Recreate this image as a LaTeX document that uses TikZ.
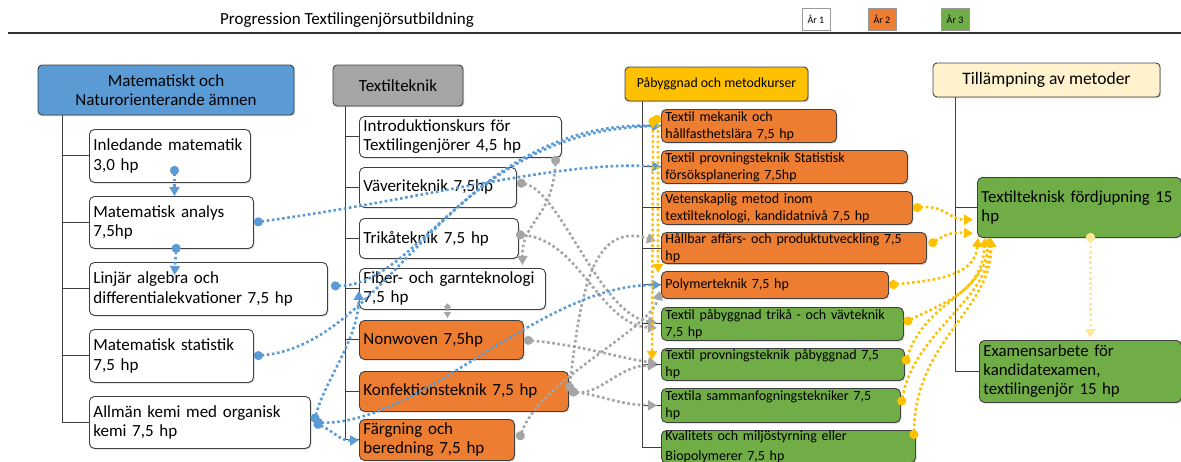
\documentclass[tikz,border=0pt]{standalone}
\usepackage{fontspec}
\setmainfont{Carlito}
\usetikzlibrary{arrows.meta,shadows}

\definecolor{mblue}{HTML}{5B9BD5}
\definecolor{hgray}{HTML}{A5A5A5}
\definecolor{morange}{HTML}{ED7D31}
\definecolor{mgreen}{HTML}{70AD47}
\definecolor{mgold}{HTML}{FFC000}
\definecolor{mcream}{HTML}{FFF2CC}
\definecolor{lgold}{HTML}{FFE699}

\tikzset{
  hdr/.style={draw=black!75, line width=0.9pt, rounded corners=4pt, align=center, inner sep=1pt,
    drop shadow={shadow xshift=1.2pt, shadow yshift=-1.2pt, fill=black!30}},
  course/.style={draw=black!75, line width=0.9pt, rounded corners=5pt, anchor=north west,
    align=left, inner xsep=4pt, inner ysep=1pt,
    drop shadow={shadow xshift=1.2pt, shadow yshift=-1.2pt, fill=black!30}},
  leg/.style={draw=black!40, line width=0.8pt, minimum width=28pt, minimum height=22pt,
    inner sep=1pt, font=\fontsize{10}{12}\selectfont},
  tree/.style={draw=black!75, line width=1pt},
  con/.style={line width=2.6pt, dash pattern=on 2.6pt off 2.6pt,
    {Circle[length=9pt]}-{Triangle[length=9pt,width=10pt]}},
  bcon/.style={con, draw=mblue},
  gcon/.style={con, draw=hgray},
  ycon/.style={con, draw=mgold},
  fa/.style={font=\fontsize{17}{19.5}\selectfont},
  fb/.style={font=\fontsize{17}{19}\selectfont},
  fc/.style={font=\fontsize{14}{17}\selectfont},
  fd/.style={font=\fontsize{16.8}{19}\selectfont},
}

\begin{document}
\begin{tikzpicture}[x=1pt,y=-1pt]
\useasboundingbox (0,0) rectangle (1181,461);

% title and legend
\node[font=\fontsize{17}{19}\selectfont] (title) at (347,20) {Progression Textilingenjörsutbildning};
\node[leg, fill=white] (ar1) at (816,19) {År 1};
\node[leg, fill=morange] (ar2) at (882,19) {År 2};
\node[leg, fill=mgreen] (ar3) at (955,19) {År 3};
\draw[line width=1.6pt, black!80] (8,33) -- (1181,33);

% headers
\node[hdr, fill=mblue, minimum width=256pt, minimum height=50pt, fa] (h1) at (166,90) {Matematiskt och\\Naturorienterande ämnen};
\node[hdr, fill=hgray, minimum width=130pt, minimum height=41pt, fb] (h2) at (398,85.5) {Textilteknik};
\node[hdr, fill=mgold, minimum width=183pt, minimum height=34pt, font=\fontsize{13.8}{16}\selectfont] (h3) at (716.5,84) {Påbyggnad och metodkurser};
\node[hdr, fill=mcream, minimum width=227pt, minimum height=34pt, font=\fontsize{17.5}{20}\selectfont] (h4) at (1046.5,80) {Tillämpning av metoder};

% matematik
\node[course, fill=white, fa, text width=153pt, minimum height=53pt] (inl) at (89,129) {Inledande matematik\\3,0 hp};
\node[course, fill=white, fa, text width=156pt, minimum height=52pt] (ana) at (89,196) {Matematisk analys\\7,5hp};
\node[course, fill=white, fa, text width=230pt, minimum height=53pt] (lin) at (89,262) {Linjär algebra och\\differentialekvationer 7,5 hp};
\node[course, fill=white, fa, text width=156pt, minimum height=53pt] (stat) at (89,329) {Matematisk statistik\\7,5 hp};
\node[course, fill=white, fa, text width=213pt, minimum height=52pt] (kemi) at (89,396) {Allmän kemi med organisk\\kemi 7,5 hp};

% textilteknik
\node[course, fill=white, fb, text width=194pt, minimum height=41pt] (intro) at (359,116) {Introduktionskurs för\\Textilingenjörer 4,5 hp};
\node[course, fill=white, fb, text width=149pt, minimum height=40pt] (vav) at (359,167) {Väveriteknik 7,5hp};
\node[course, fill=white, fb, text width=151pt, minimum height=40pt] (trik) at (359,218) {Trikåteknik 7,5 hp};
\node[course, fill=white, fb, text width=178pt, minimum height=41pt] (fiber) at (359,268) {Fiber- och garnteknologi\\7,5 hp};
\node[course, fill=morange, fb, text width=156pt, minimum height=39pt] (nonw) at (359,320) {Nonwoven 7,5hp};
\node[course, fill=morange, fb, text width=201pt, minimum height=40pt] (konf) at (359,371) {Konfektionsteknik 7,5 hp};
\node[course, fill=morange, fb, text width=147pt, minimum height=41pt] (farg) at (359,419) {Färgning och\\beredning 7,5 hp};

% paabyggnad
\node[course, fill=morange, fc, text width=167pt, minimum height=33pt] (mek) at (661,109) {Textil mekanik och\\hållfasthetslära 7,5 hp};
\node[course, fill=morange, fc, text width=238pt, minimum height=33pt] (prov) at (661,150) {Textil provningsteknik Statistisk\\försöksplanering 7,5hp};
\node[course, fill=morange, fc, text width=243pt, minimum height=33pt] (vet) at (661,191) {Vetenskaplig metod inom\\textilteknologi, kandidatnivå 7,5 hp};
\node[course, fill=morange, fc, text width=257pt, minimum height=31pt] (hall) at (661,232) {Hållbar affärs- och produktutveckling 7,5\\hp};
\node[course, fill=morange, fc, text width=219pt, minimum height=27pt] (poly) at (661,271) {Polymerteknik 7,5 hp};
\node[course, fill=mgreen, fc, text width=234pt, minimum height=33pt] (pab) at (661,307) {Textil påbyggnad trikå - och vävteknik\\7,5 hp};
\node[course, fill=mgreen, fc, text width=235pt, minimum height=32pt] (provp) at (661,348) {Textil provningsteknik påbyggnad 7,5\\hp};
\node[course, fill=mgreen, fc, text width=231pt, minimum height=34pt] (samm) at (661,388) {Textila sammanfogningstekniker 7,5\\hp};
\node[course, fill=mgreen, font=\fontsize{14}{20.5}\selectfont, text width=246pt, inner ysep=0pt] (kval) at (661,430) {Kvalitets och miljöstyrning eller\\Biopolymerer 7,5 hp};

% tillaempning
\node[course, fill=mgreen, fd, text width=196pt, minimum height=60pt] (ford) at (977,177) {Textilteknisk fördjupning 15\\hp};
\node[course, fill=mgreen, fd, text width=194pt, minimum height=62pt] (exam) at (979,340) {Examensarbete för\\kandidatexamen,\\textilingenjör 15 hp};

% tree lines
\coordinate (t1) at ([xshift=25pt]h1.south west);
\coordinate (t2) at ([xshift=13pt]h2.south west);
\coordinate (t3) at ([xshift=18pt]h3.south west);
\coordinate (t4) at ([xshift=23pt]h4.south west);
\draw[tree] (t1) |- (kemi.west);
\foreach \n in {inl,ana,lin,stat}
  \draw[tree] (\n.west -| t1) -- (\n.west);
\draw[tree] (t2) |- (farg.west);
\foreach \n in {intro,vav,trik,fiber,nonw,konf}
  \draw[tree] (\n.west -| t2) -- (\n.west);
\draw[tree] (t3) |- ([yshift=-17pt]kval.north west);
\foreach \n in {mek,prov,vet,hall,poly,pab,provp,samm}
  \draw[tree] (\n.west -| t3) -- (\n.west);
\draw[tree] (t4) |- (exam.west);
\draw[tree] (ford.west -| t4) -- (ford.west);

% gray links
\draw[gcon] ([xshift=-6pt,yshift=2pt]intro.south east) .. controls (552,220) and (522,220) .. ([xshift=70pt,yshift=3pt]fiber.north);
\draw[gcon, {Circle[length=6pt]}-{Triangle[length=6pt,width=7pt]}] ([xshift=-5pt,yshift=6pt]fiber.south) -- ([xshift=6pt,yshift=2pt]nonw.north);
\draw[gcon] ([yshift=5pt]vav.east) .. controls (560,190) and (600,315) .. ([xshift=-4pt,yshift=1pt]pab.west);
\draw[gcon] ([xshift=-3pt,yshift=4pt]trik.east) .. controls (580,240) and (600,325) .. ([xshift=-4pt,yshift=-4pt]pab.west);
\draw[gcon] (nonw.east) .. controls (580,345) and (620,358) .. ([xshift=-4pt,yshift=1pt]provp.west);
\draw[gcon] (konf.east) .. controls (600,395) and (620,365) .. ([xshift=-4pt,yshift=-1pt]provp.west);
\draw[gcon] (konf.east) .. controls (600,395) and (620,405) .. ([xshift=-4pt]samm.west);
\draw[gcon] (konf.east) .. controls (580,300) and (590,220) .. ([xshift=-5pt,yshift=7pt]hall.west);
\draw[gcon] ([xshift=4pt]farg.east) .. controls (540,380) and (650,330) .. ([xshift=-1pt,yshift=8pt]poly.south west);

% blue links
\draw[bcon] ([xshift=4.5pt,yshift=17pt]inl.south) -- ([xshift=3pt]ana.north);
\draw[bcon] ([xshift=5pt,yshift=5pt]ana.south) -- ([xshift=-34pt,yshift=-13pt]lin.north);
\draw[bcon] (ana.east) .. controls (420,200) and (560,160) .. (prov.west);
\draw[bcon] ([xshift=3pt,yshift=3pt]lin.east) .. controls (420,285) and (470,130) .. (mek.west);
\draw[bcon] (stat.east) .. controls (390,345) and (450,120) .. (mek.west);
\draw[bcon] ([xshift=3pt]kemi.east) .. controls (325,380) and (358,340) .. ([yshift=19pt]fiber.south west);
\draw[bcon] ([xshift=3pt]kemi.east) .. controls (420,425) and (540,285) .. (poly.west);
\draw[bcon] ([xshift=3pt]kemi.east) .. controls (335,432) and (340,441) .. (farg.west);

% gold links
\draw[ycon] ([xshift=-8pt,yshift=-8pt]mek.north west) -- ([xshift=-9pt,yshift=-12pt]provp.north west);
\draw[ycon] ([xshift=-8pt,yshift=-8pt]mek.north west) .. controls (658,120) .. (658,140) -- ([xshift=-3pt,yshift=-2pt]poly.north west);
\draw[ycon] (vet.east) .. controls (945,205) and (950,220) .. ([xshift=-4pt,yshift=-12pt]ford.west);
\draw[ycon] ([xshift=2pt,yshift=3pt]hall.east) .. controls (945,235) and (950,232) .. ([xshift=-4pt,yshift=-26pt]ford.west);
\draw[ycon] (poly.east) .. controls (940,280) and (975,275) .. ([xshift=1pt]ford.south west);
\draw[ycon] ([yshift=1pt]pab.east) .. controls (950,300) and (982,290) .. ([xshift=8pt]ford.south west);
\draw[ycon] (provp.east) .. controls (925,300) and (986,295) .. ([xshift=11pt]ford.south west);
\draw[ycon] (samm.east) .. controls (915,330) and (990,300) .. ([xshift=13pt]ford.south west);
\draw[ycon] ([xshift=-2pt,yshift=-9pt]kval.north east) .. controls (915,340) and (992,310) .. ([xshift=14pt]ford.south west);
\draw[con, draw=lgold] ([xshift=11pt,yshift=5pt]ford.south) -- ([xshift=10pt,yshift=2pt]exam.north);
\end{tikzpicture}
\end{document}
